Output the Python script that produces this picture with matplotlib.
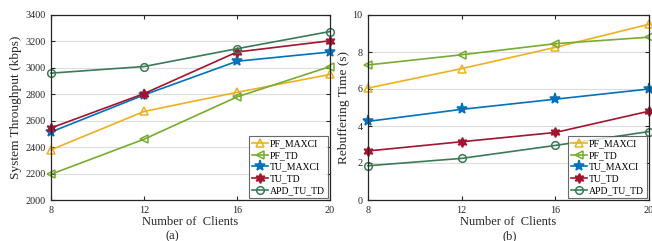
import matplotlib
matplotlib.use("Agg")
import matplotlib.pyplot as plt

plt.rcParams['font.family'] = ['Liberation Serif', 'DejaVu Serif']
plt.rcParams['mathtext.fontset'] = 'stix'

clients = [8, 12, 16, 20]
series = ["PF_MAXCI", "PF_TD", "TU_MAXCI", "TU_TD", "APD_TU_TD"]

thr_pf_maxci = [2380, 2670, 2815, 2950]
thr_pf_td = [2195, 2460, 2780, 3010]
thr_tu_maxci = [2515, 2795, 3050, 3120]
thr_tu_td = [2545, 2805, 3120, 3205]
thr_apd = [2960, 3010, 3145, 3275]

reb_pf_maxci = [6.05, 7.1, 8.25, 9.5]
reb_pf_td = [7.3, 7.85, 8.45, 8.8]
reb_tu_maxci = [4.25, 4.9, 5.45, 6.0]
reb_tu_td = [2.65, 3.15, 3.65, 4.8]
reb_apd = [1.85, 2.25, 2.95, 3.7]

colors = ['#EDB120', '#77AC30', '#0072BD', '#A2142F', '#3B7A57']
markers = ['^', '<', '*', (6, 1, 0), 'o']
msizes = [6, 6, 8, 7, 5.5]
mfaces = ['none', 'none', None, None, 'none']

fig = plt.figure(figsize=(6.52, 2.41), dpi=100)
ax1 = fig.add_axes([51/652, 41/241, 279/652, 185/241])
ax2 = fig.add_axes([368/652, 41/241, 281/652, 185/241])

def draw(ax, data, ylim, yticks, ylabel):
    for vals, name, c, m, ms, mf in zip(data, series, colors, markers, msizes, mfaces):
        kw = dict(color=c, marker=m, markersize=ms, linewidth=1.2, label=name,
                  markeredgewidth=1.1, clip_on=False)
        if mf == 'none':
            kw['markerfacecolor'] = 'none'
        ax.plot(clients, vals, **kw)
    ax.set_xlim(8, 20)
    ax.set_ylim(*ylim)
    ax.set_xticks(clients)
    ax.set_yticks(yticks)
    ax.yaxis.grid(True, color='#DDDDDD', linewidth=0.8)
    ax.set_axisbelow(True)
    ax.tick_params(direction='in', top=True, right=True, length=3, width=0.8,
                   labelsize=7.3, colors='#262626', pad=4)
    for s in ax.spines.values():
        s.set_color('#262626')
        s.set_linewidth(0.9)
    ax.set_xlabel("Number of  Clients", fontsize=9, color='#262626', labelpad=1)
    ax.set_ylabel(ylabel, fontsize=9.6, color='#262626', labelpad=2)
    leg = ax.legend(loc='lower right', fontsize=7, frameon=True, fancybox=False,
                    borderpad=0.3, labelspacing=0.28, handlelength=1.6,
                    handletextpad=0.25, borderaxespad=0.2)
    leg.get_frame().set_edgecolor('#444444')
    leg.get_frame().set_linewidth(0.8)

draw(ax1, [thr_pf_maxci, thr_pf_td, thr_tu_maxci, thr_tu_td, thr_apd],
     (2000, 3400), list(range(2000, 3401, 200)), "System Throughput (kbps)")
draw(ax2, [reb_pf_maxci, reb_pf_td, reb_tu_maxci, reb_tu_td, reb_apd],
     (0, 10), list(range(0, 11, 2)), "Rebuffering Time (s)")

fig.text(172/652, 1 - 236/241, "(a)", ha='center', va='center', fontsize=9, color='#262626')
fig.text(510/652, 1 - 236/241, "(b)", ha='center', va='center', fontsize=9, color='#262626')

fig.savefig("out.png", dpi=100)
